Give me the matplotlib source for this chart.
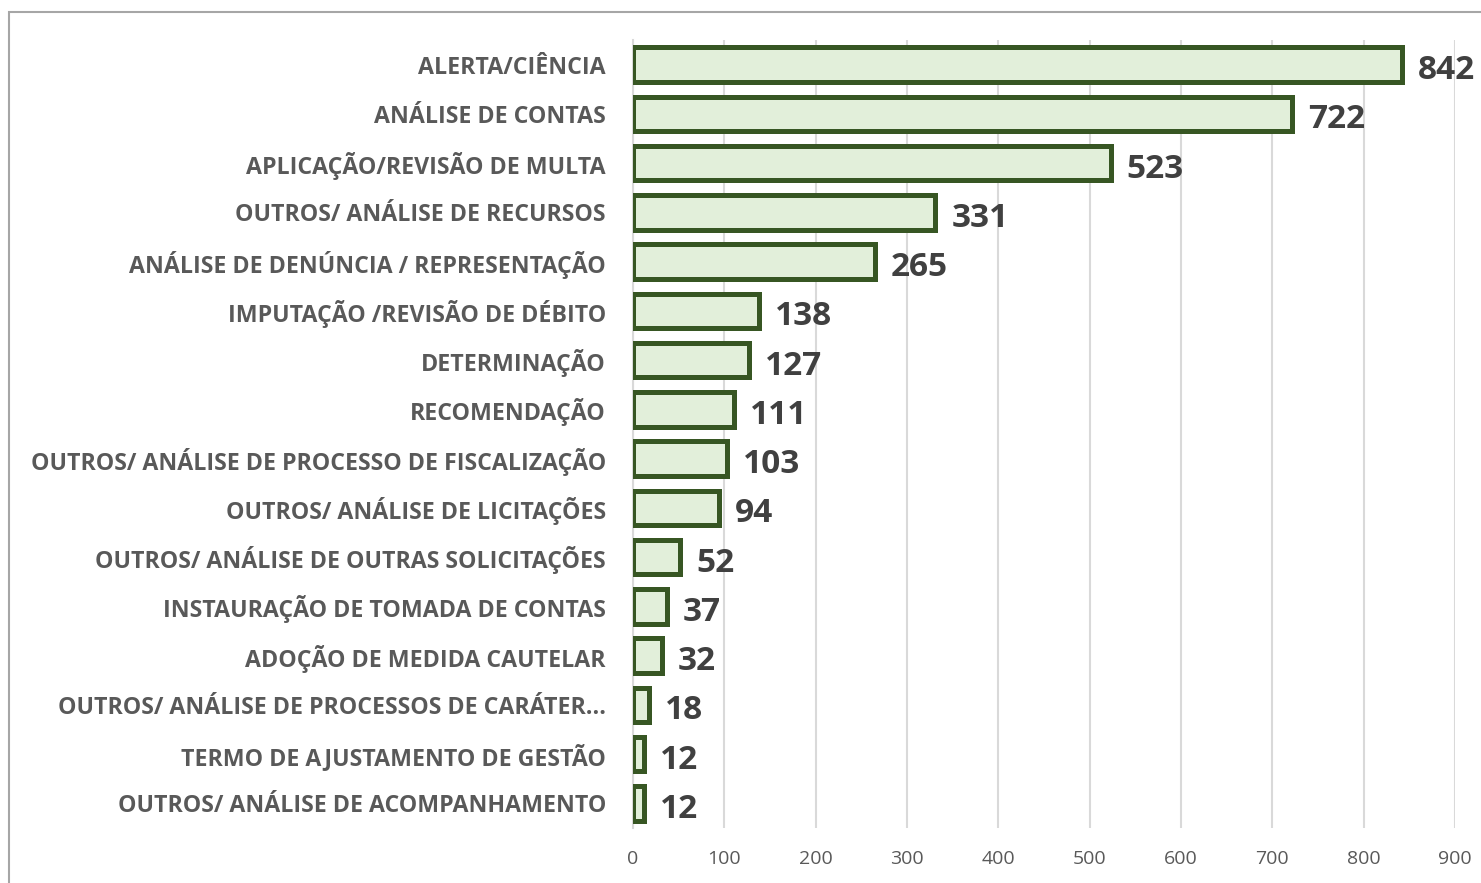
import matplotlib
matplotlib.use("Agg")
import matplotlib.pyplot as plt
from matplotlib.patches import Rectangle

categories = [
    "ALERTA/CIÊNCIA",
    "ANÁLISE DE CONTAS",
    "APLICAÇÃO/REVISÃO DE MULTA",
    "OUTROS/ ANÁLISE DE RECURSOS",
    "ANÁLISE DE DENÚNCIA / REPRESENTAÇÃO",
    "IMPUTAÇÃO /REVISÃO DE DÉBITO",
    "DETERMINAÇÃO",
    "RECOMENDAÇÃO",
    "OUTROS/ ANÁLISE DE PROCESSO DE FISCALIZAÇÃO",
    "OUTROS/ ANÁLISE DE LICITAÇÕES",
    "OUTROS/ ANÁLISE DE OUTRAS SOLICITAÇÕES",
    "INSTAURAÇÃO DE TOMADA DE CONTAS",
    "ADOÇÃO DE MEDIDA CAUTELAR",
    "OUTROS/ ANÁLISE DE PROCESSOS DE CARÁTER...",
    "TERMO DE AJUSTAMENTO DE GESTÃO",
    "OUTROS/ ANÁLISE DE ACOMPANHAMENTO",
]
values = [842, 722, 523, 331, 265, 138, 127, 111, 103, 94, 52, 37, 32, 18, 12, 12]
xticks = [0, 100, 200, 300, 400, 500, 600, 700, 800, 900]

FILL = "#E2EFDA"
EDGE = "#375623"
LABEL = "#595959"
VALUE = "#404040"

plt.rcParams["font.family"] = ["Open Sans", "DejaVu Sans"]

fig = plt.figure(figsize=(14.81, 8.83), dpi=100)
ax = fig.add_axes([0.4274, 0.0623, 0.5550, 0.8924])

y = list(range(len(categories)))
ax.barh(y, values, height=0.70, color=FILL, edgecolor=EDGE, linewidth=3.6, zorder=3)

for yi, v in zip(y, values):
    ax.annotate(str(v), xy=(v, yi), xytext=(11.5, -10.5), textcoords="offset points",
                va="baseline", ha="left", fontsize=24, fontweight="bold",
                color=VALUE, zorder=4)

ax.set_xlim(0, 900)
ax.set_ylim(len(categories) - 0.5, -0.5)
ax.set_xticks(xticks)
ax.set_xticklabels([str(t) for t in xticks], fontsize=14, color=LABEL)
ax.set_yticks(y)
ax.set_yticklabels(categories, fontsize=16.7, fontweight="bold", color=LABEL)
ax.tick_params(axis="x", length=0, pad=16)
ax.tick_params(axis="y", length=0, pad=19.5)

ax.grid(axis="x", color="#D9D9D9", linewidth=1.5, zorder=0)
ax.set_axisbelow(True)
for side in ("top", "right", "bottom"):
    ax.spines[side].set_visible(False)
ax.spines["left"].set_color("#D9D9D9")
ax.spines["left"].set_linewidth(1.5)

# outer chart frame, running past the right and bottom edges
fig.patches.append(Rectangle((9 / 1481, -0.05), 1.2, 1 - 12 / 883 + 0.05,
                             transform=fig.transFigure, fill=False,
                             edgecolor="#A6A6A6", linewidth=1.5))

fig.savefig("out.png", dpi=100)
